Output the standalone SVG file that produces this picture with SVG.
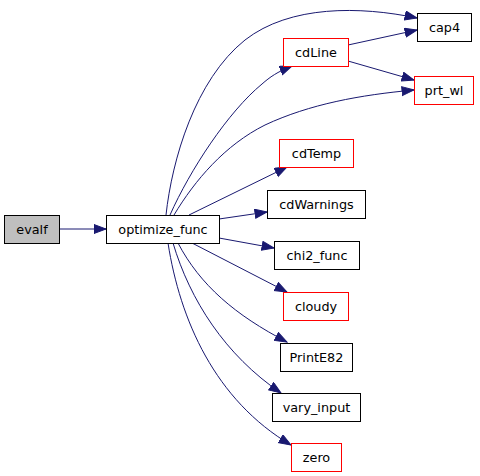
<svg xmlns="http://www.w3.org/2000/svg" width="480" height="476" viewBox="0 0 480 476">
<defs>
<marker id="ah" markerWidth="14" markerHeight="11" refX="12.5" refY="5" orient="auto" markerUnits="userSpaceOnUse">
<path d="M0.5,0.5 L12.5,5 L0.5,9.5 Z" fill="#191970" stroke="#191970" stroke-width="1"/>
</marker>
</defs>
<style>
.n text{font-family:"DejaVu Sans",sans-serif;font-size:12.8px;fill:#000;text-anchor:middle}
#edges path{fill:none;stroke:#191970;stroke-width:1;marker-end:url(#ah)}
</style>
<rect width="480" height="476" fill="#fff"/>
<g id="edges">
<path d="M59,229 L106,229"/>
<path d="M166,215 C172,160 195,80 245,40 C290,5 360,6 417,18"/>
<path d="M170,215 C190,170 228,112 262,84 C270,77 277,72 292,66"/>
<path d="M174,215 C195,180 225,145 265,125 C310,104 360,95 414,90"/>
<path d="M189,215 L287,167"/>
<path d="M219,219 L267,212"/>
<path d="M219,238 L274,248"/>
<path d="M192,243 L287,292"/>
<path d="M178,243 C200,285 235,315 287,342"/>
<path d="M173,243 C190,300 225,355 281,393"/>
<path d="M168,243 C180,320 215,400 291,445"/>
<path d="M348,45 L417,30"/>
<path d="M348,61 L414,80"/>
</g>
<g id="evalf" class="n"><rect x="4.5" y="215.5" width="55" height="28" fill="#bfbfbf" stroke="#000"/><text x="32" y="234">evalf</text></g>
<g id="optimize_func" class="n"><rect x="106.5" y="215.5" width="113" height="28" fill="#fff" stroke="#000"/><text x="163" y="234">optimize_func</text></g>
<g id="cap4" class="n"><rect x="417.5" y="13.5" width="54" height="28" fill="#fff" stroke="#000"/><text x="444.5" y="32">cap4</text></g>
<g id="cdLine" class="n"><rect x="283.5" y="38.5" width="65" height="28" fill="#fff" stroke="#ff0000"/><text x="316" y="57">cdLine</text></g>
<g id="prt_wl" class="n"><rect x="414.5" y="76.5" width="59" height="28" fill="#fff" stroke="#ff0000"/><text x="444" y="95">prt_wl</text></g>
<g id="cdTemp" class="n"><rect x="279.5" y="139.5" width="74" height="28" fill="#fff" stroke="#ff0000"/><text x="316.5" y="158">cdTemp</text></g>
<g id="cdWarnings" class="n"><rect x="267.5" y="190.5" width="98" height="28" fill="#fff" stroke="#000"/><text x="316.5" y="209">cdWarnings</text></g>
<g id="chi2_func" class="n"><rect x="274.5" y="241.5" width="85" height="28" fill="#fff" stroke="#000"/><text x="317" y="260">chi2_func</text></g>
<g id="cloudy" class="n"><rect x="283.5" y="292.5" width="65" height="28" fill="#fff" stroke="#ff0000"/><text x="316" y="311">cloudy</text></g>
<g id="PrintE82" class="n"><rect x="280.5" y="343.5" width="72" height="28" fill="#fff" stroke="#000"/><text x="316.5" y="362">PrintE82</text></g>
<g id="vary_input" class="n"><rect x="272.5" y="393.5" width="88" height="28" fill="#fff" stroke="#000"/><text x="316.5" y="412">vary_input</text></g>
<g id="zero" class="n"><rect x="291.5" y="443.5" width="50" height="28" fill="#fff" stroke="#ff0000"/><text x="316.5" y="462">zero</text></g>
</svg>
